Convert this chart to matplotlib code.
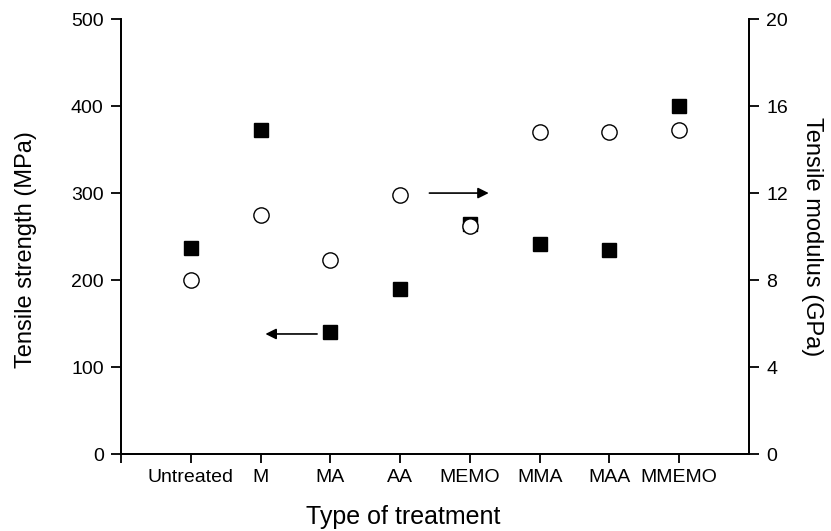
import matplotlib
matplotlib.use('Agg')
import matplotlib.pyplot as plt

plt.rcParams['font.family'] = ['Liberation Sans', 'DejaVu Sans']

# === 数据 ===
treatments = ['Untreated', 'M', 'MA', 'AA', 'MEMO', 'MMA', 'MAA', 'MMEMO']
strength = [237, 373, 140, 190, 264, 242, 234, 400]        # MPa (left axis)
modulus = [8.0, 11.0, 8.9, 11.9, 10.5, 14.8, 14.8, 14.9]    # GPa (right axis)

fig = plt.figure(figsize=(8.31, 5.31), dpi=100)
ax = fig.add_axes([0.1456, 0.145, 0.7557, 0.819])
ax2 = ax.twinx()

x = list(range(1, len(treatments) + 1))

ax.plot(x, strength, 's', color='black', markersize=10, zorder=3)
ax2.plot(x, modulus, 'o', markerfacecolor='white', markeredgecolor='black',
         markeredgewidth=1.0, markersize=11, zorder=4)

ax.set_xlim(0, 9)
ax.set_ylim(0, 500)
ax2.set_ylim(0, 20)
ax.set_xticks(range(0, 9))
ax.set_xticklabels([''] + treatments)
ax.set_yticks(range(0, 501, 100))
ax2.set_yticks(range(0, 21, 4))

for a in (ax, ax2):
    a.spines['top'].set_visible(False)
    for s in a.spines.values():
        s.set_linewidth(1.3)
    a.tick_params(direction='out', length=7, width=1.3, labelsize=14, pad=5.5)
ax.tick_params(axis='x', labelsize=14, pad=4.5, length=6.5)

ax.set_xlabel('Type of treatment', fontsize=18)
ax.xaxis.set_label_coords(0.449, -0.118)
ax.set_ylabel('Tensile strength (MPa)', fontsize=17)
ax.yaxis.set_label_coords(-0.134, 0.469)
ax2.set_ylabel('Tensile modulus (GPa)', fontsize=17, rotation=-90, labelpad=25)

# 指示箭头
ax.annotate('', xy=(2.03, 138), xytext=(2.85, 138),
            arrowprops=dict(arrowstyle='-|>', color='black', lw=1.2, mutation_scale=16))
ax2.annotate('', xy=(5.31, 12.0), xytext=(4.38, 12.0),
             arrowprops=dict(arrowstyle='-|>', color='black', lw=1.2, mutation_scale=16))

plt.savefig('out.png', dpi=100)
